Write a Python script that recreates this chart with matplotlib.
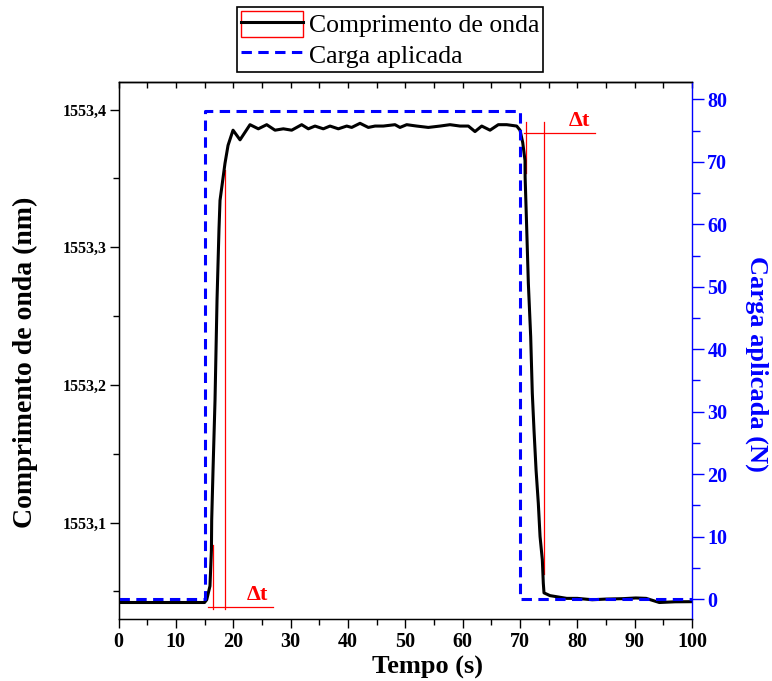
import matplotlib
matplotlib.use("Agg")
import matplotlib.pyplot as plt
from matplotlib.ticker import MultipleLocator, FuncFormatter, NullFormatter
from matplotlib.legend_handler import HandlerLine2D
from matplotlib.patches import Rectangle

plt.rcParams['font.family'] = ['Liberation Serif', 'DejaVu Serif']

# wavelength of the grating (nm) vs time (s)
tempo = [0, 5, 10, 15, 15.38, 15.95, 16.20, 16.25, 16.48, 16.83, 17.18, 17.52,
         17.70, 18.57, 19.10, 19.97, 21.19, 22.93, 24.38, 25.84, 27.29, 28.74,
         30.20, 31.94, 33.10, 34.26, 35.71, 36.88, 38.33, 39.79, 40.66, 42.11,
         43.56, 44.73, 46.17, 48.21, 49.08, 50.25, 52.00, 54.02, 56.06, 57.80,
         59.55, 61.00, 62.16, 63.33, 64.78, 66.22, 67.69, 69.43, 70.01, 70.48,
         70.88, 70.90, 71.18, 71.46, 71.87, 72.15, 72.45, 72.81, 73.20, 73.50,
         73.90, 74.07, 74.19, 75.23, 78.15, 80.0, 82.6, 85.0, 88.0, 90.2, 92.0,
         94.3, 97.0, 100.0]
comprimento = [1553.042, 1553.042, 1553.042, 1553.042, 1553.044, 1553.054,
               1553.080, 1553.102, 1553.138, 1553.189, 1553.262, 1553.313,
               1553.334, 1553.361, 1553.374, 1553.385, 1553.378, 1553.389,
               1553.386, 1553.389, 1553.385, 1553.386, 1553.385, 1553.389,
               1553.386, 1553.388, 1553.386, 1553.388, 1553.386, 1553.388,
               1553.387, 1553.390, 1553.387, 1553.388, 1553.388, 1553.389,
               1553.387, 1553.389, 1553.388, 1553.387, 1553.388, 1553.389,
               1553.388, 1553.388, 1553.384, 1553.388, 1553.385, 1553.389,
               1553.389, 1553.388, 1553.385, 1553.376, 1553.363, 1553.351,
               1553.313, 1553.274, 1553.235, 1553.194, 1553.167, 1553.138,
               1553.114, 1553.090, 1553.073, 1553.056, 1553.049, 1553.047,
               1553.045, 1553.045, 1553.044, 1553.0445, 1553.0448, 1553.0453,
               1553.045, 1553.042, 1553.0425, 1553.0426]

# applied load (N)
tempo_carga = [0, 15, 15, 70, 70, 100]
carga = [0, 0, 78.2, 78.2, 0, 0]

# rise / fall time markers (x, y pairs in wavelength units)
subida_x = [[16.53, 16.53], [18.57, 18.57], [15.65, 26.96]]
subida_y = [[1553.037, 1553.084], [1553.037, 1553.356], [1553.039, 1553.039]]
descida_x = [[71.0, 71.0], [74.25, 74.25], [70.7, 83.1]]
descida_y = [[1553.391, 1553.354], [1553.391, 1553.063], [1553.383, 1553.383]]

x_ticks = [0, 10, 20, 30, 40, 50, 60, 70, 80, 90, 100]
y_ticks = [1553.1, 1553.2, 1553.3, 1553.4]
y2_ticks = [0, 10, 20, 30, 40, 50, 60, 70, 80]

azul = '#0000FF'


class HandlerBoxedLine(HandlerLine2D):
    # line handle with a red frame around it
    def create_artists(self, legend, orig_handle, xdescent, ydescent,
                       width, height, fontsize, trans):
        artists = super().create_artists(legend, orig_handle, xdescent, ydescent,
                                         width, height, fontsize, trans)
        box = Rectangle((-xdescent, -ydescent), width, height, fill=False,
                        edgecolor='red', lw=1.0, transform=trans)
        return [box] + list(artists)


fig = plt.figure(figsize=(7.72, 6.81), dpi=100)
ax = fig.add_axes([0.1535, 0.0906, 0.7429, 0.7890])

for xs, ys in zip(subida_x + descida_x, subida_y + descida_y):
    ax.plot(xs, ys, color='red', lw=0.9, zorder=1.5)

linha_wl, = ax.plot(tempo, comprimento, color='black', lw=2.2, zorder=2)

ax.text(24.15, 1553.0475, 'Δt', color='red', fontsize=16, fontweight='bold',
        ha='center', va='center')
ax.text(80.3, 1553.392, 'Δt', color='red', fontsize=16, fontweight='bold',
        ha='center', va='center')

ax.set_xlim(0, 100)
ax.set_ylim(1553.0298, 1553.420)
ax.set_xticks(x_ticks)
ax.xaxis.set_minor_locator(MultipleLocator(5))
ax.set_yticks(y_ticks)
ax.yaxis.set_minor_locator(MultipleLocator(0.05))
ax.yaxis.set_major_formatter(FuncFormatter(lambda v, p: f'{v:.1f}'.replace('.', ',')))

ax.tick_params(axis='x', which='major', direction='out', length=6.5, width=1,
               labelsize=14.5, pad=3)
ax.tick_params(axis='x', which='minor', direction='out', length=4, width=1)
ax.tick_params(axis='y', which='major', direction='out', length=6.5, width=1,
               labelsize=11.5, pad=1.8)
ax.tick_params(axis='y', which='minor', direction='out', length=4, width=1)
for lab in ax.get_xticklabels() + ax.get_yticklabels():
    lab.set_fontweight('bold')
for sp in ax.spines.values():
    sp.set_linewidth(1)

ax.set_xlabel('Tempo (s)', fontsize=19, fontweight='bold')
ax.xaxis.set_label_coords(0.538, -0.068)
ax.set_ylabel('Comprimento de onda (nm)', fontsize=20, fontweight='bold', va='center')
ax.yaxis.set_label_coords(-0.163, 0.479)

# inward ticks on the top edge
top = ax.secondary_xaxis('top')
top.set_xticks(x_ticks)
top.xaxis.set_minor_locator(MultipleLocator(5))
top.xaxis.set_major_formatter(NullFormatter())
top.tick_params(axis='x', which='both', direction='in', length=4.5, width=1)
top.spines['top'].set_linewidth(1)

ax2 = ax.twinx()
linha_carga, = ax2.plot(tempo_carga, carga, color=azul, lw=2.2,
                        linestyle=(0, (3.4, 2.1)))
ax2.set_ylim(-3.25, 82.8)
ax2.set_yticks(y2_ticks)
ax2.yaxis.set_minor_locator(MultipleLocator(5))
ax2.tick_params(axis='y', which='major', direction='out', length=8.5, width=1,
                colors=azul, labelsize=14.5, pad=2.5)
ax2.tick_params(axis='y', which='minor', direction='out', length=5.5, width=1,
                colors=azul)
for lab in ax2.get_yticklabels():
    lab.set_fontweight('bold')
ax2.spines['right'].set_color(azul)
ax2.spines['right'].set_linewidth(1)
ax.spines['right'].set_visible(False)
ax2.set_ylabel('Carga aplicada (N)', fontsize=19, fontweight='bold', color=azul,
               rotation=270, va='center')
ax2.yaxis.set_label_coords(1.113, 0.475)

leg = fig.legend([linha_wl, linha_carga], ['Comprimento de onda', 'Carga aplicada'],
                 loc='upper left', bbox_to_anchor=(0.307, 0.9897), borderaxespad=0,
                 fontsize=18.5, handlelength=2.4, handleheight=1.17,
                 handletextpad=0.25, borderpad=0.15, labelspacing=0.15,
                 fancybox=False, edgecolor='black', framealpha=1,
                 handler_map={linha_wl: HandlerBoxedLine()})
leg.get_frame().set_linewidth(1.2)

fig.savefig('out.png', dpi=100)
